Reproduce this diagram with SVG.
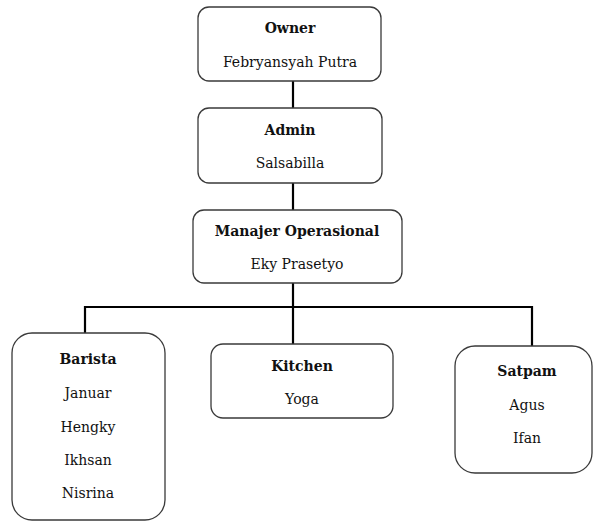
<svg xmlns="http://www.w3.org/2000/svg" width="593" height="521" viewBox="0 0 593 521">
<style>
.box{fill:#fff;stroke:#3a3a3a;stroke-width:1.3}
.ln{stroke:#000;stroke-width:2.2;fill:none}
</style>
<rect width="593" height="521" fill="#fff"/>
<g id="connectors">
<line class="ln" x1="293" y1="81" x2="293" y2="108"/>
<line class="ln" x1="293" y1="183" x2="293" y2="210"/>
<line class="ln" x1="293" y1="283" x2="293" y2="344"/>
<polyline class="ln" points="85,343 85,307 532,307 532,346"/>
</g>
<g font-family="DejaVu Serif, serif" font-size="14" fill="#111" text-anchor="middle">
<g id="owner">
<rect class="box" x="198" y="7" width="183" height="74" rx="11"/>
<text font-weight="bold" x="290" y="33">Owner</text>
<text x="290" y="67">Febryansyah Putra</text>
</g>
<g id="admin">
<rect class="box" x="198" y="108" width="184" height="75" rx="11"/>
<text font-weight="bold" x="290" y="135">Admin</text>
<text x="290" y="168">Salsabilla</text>
</g>
<g id="manajer">
<rect class="box" x="193" y="210" width="209" height="73" rx="11"/>
<text font-weight="bold" x="297" y="236">Manajer Operasional</text>
<text x="297" y="269">Eky Prasetyo</text>
</g>
<g id="barista">
<rect class="box" x="12" y="333" width="153" height="187" rx="20"/>
<text font-weight="bold" x="88" y="364">Barista</text>
<text x="88" y="398">Januar</text>
<text x="88" y="432">Hengky</text>
<text x="88" y="465">Ikhsan</text>
<text x="88" y="498">Nisrina</text>
</g>
<g id="kitchen">
<rect class="box" x="211" y="344" width="182" height="74" rx="12"/>
<text font-weight="bold" x="302" y="371">Kitchen</text>
<text x="302" y="404">Yoga</text>
</g>
<g id="satpam">
<rect class="box" x="455" y="346" width="137" height="127" rx="20"/>
<text font-weight="bold" x="527" y="376">Satpam</text>
<text x="527" y="410">Agus</text>
<text x="527" y="443">Ifan</text>
</g>
</g>
</svg>
